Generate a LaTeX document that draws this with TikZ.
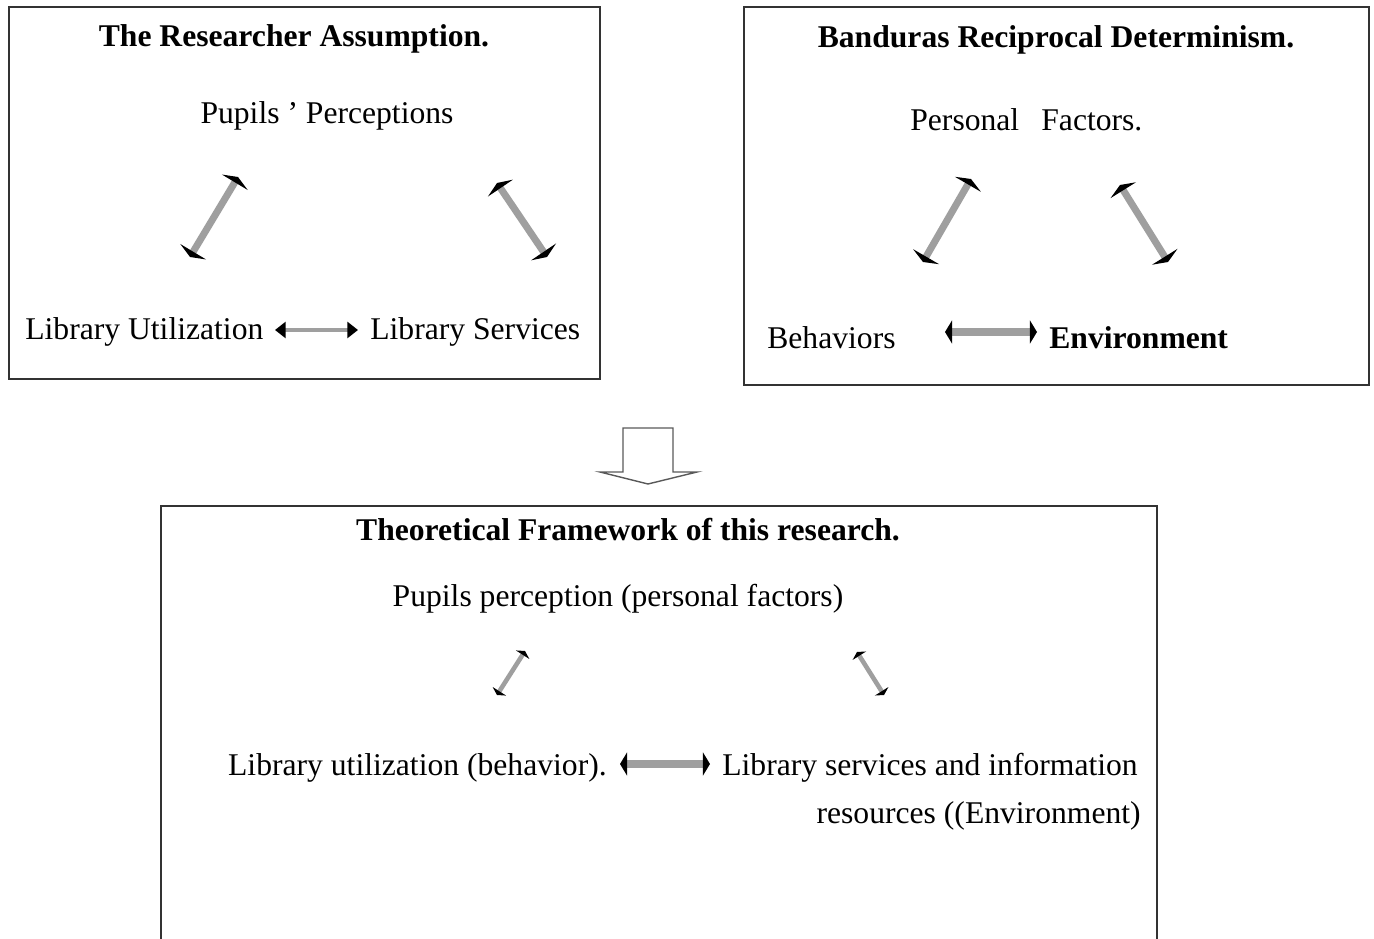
\documentclass[tikz,border=0pt]{standalone}
\usepackage{fontspec}
\setmainfont{Liberation Serif}
\usetikzlibrary{arrows.meta,positioning}
\tikzset{
   frame/.style={draw=black!80,line width=0.6pt},
   lbl/.style={inner sep=0pt,font=\fontsize{18}{21}\selectfont},
   ttl/.style={lbl,font=\fontsize{18}{21}\selectfont\bfseries},
   twoway/.style={draw=gray!75,line width=#1},
   bigtips/.style={{Triangle[length=3.5pt,width=17pt,color=black]}-{Triangle[length=3.5pt,width=17pt,color=black]}},
   smalltips/.style={{Triangle[length=6pt,width=9pt,color=black]}-{Triangle[length=6pt,width=9pt,color=black]}},
   flattips/.style={{Triangle[length=4pt,width=13pt,color=black]}-{Triangle[length=4pt,width=13pt,color=black]}},
   thintips/.style={{Triangle[length=2.5pt,width=9pt,color=black]}-{Triangle[length=2.5pt,width=9pt,color=black]}},
}
\begin{document}
\begin{tikzpicture}[x=0.02cm,y=-0.02cm]
	\useasboundingbox (0,0) rectangle (1374,939);

	% left box
	\draw[frame] (9,7) rectangle (600,379);
	\node[ttl] (ra) at (294,39) {The Researcher Assumption.};
	\node[lbl] (pp) at (327,116) {Pupils ’ Perceptions};
	\node[lbl,anchor=west] (lu) at (25,332) {Library Utilization};
	\node[lbl,anchor=west] (ls) at (370,332) {Library Services};
	\coordinate (a1) at (190,257); \coordinate (a2) at (238,177);
	\coordinate (a3) at (497,183); \coordinate (a4) at (547,257);
	\coordinate (a5) at (275,330); \coordinate (a6) at (358,330);
	\draw[twoway=4pt,bigtips] (a1) -- (a2);
	\draw[twoway=4pt,bigtips] (a3) -- (a4);
	\draw[twoway=2.4pt,smalltips] (a5) -- (a6);

	% right box
	\draw[frame] (744,7) rectangle (1369,385);
	\node[ttl] (bd) at (1056,40) {Banduras Reciprocal Determinism.};
	\node[lbl,anchor=west] (pf) at (910,120) {Personal\hspace{0.45em} Factors.};
	\node[lbl,anchor=west] (bh) at (767,338) {Behaviors};
	\node[ttl,anchor=west] (en) at (1049,338) {Environment};
	\coordinate (b1) at (923,262); \coordinate (b2) at (971,179);
	\coordinate (b3) at (1120,185); \coordinate (b4) at (1168,262);
	\coordinate (b5) at (945,332); \coordinate (b6) at (1037,332);
	\draw[twoway=4pt,bigtips] (b1) -- (b2);
	\draw[twoway=4pt,bigtips] (b3) -- (b4);
	\draw[twoway=5pt,flattips] (b5) -- (b6);

	% hollow arrow
	\draw[draw=black!65,line width=0.8pt,line join=miter]
		(623,428) -- (673,428) -- (673,472) -- (697,472) -- (648,484)
		-- (600,472) -- (623,472) -- cycle;

	% bottom box
	\draw[frame] (161,948) -- (161,506) -- (1157,506) -- (1157,948);
	\node[ttl] (tf) at (628,530) {Theoretical Framework of this research.};
	\node[lbl] (pc) at (618,599) {Pupils perception (personal factors)};
	\node[lbl,anchor=east] (ub) at (607,768) {Library utilization (behavior).};
	\node[lbl,anchor=west] (si) at (722,768) {Library services and information};
	\node[lbl,anchor=east] (re) at (1141,816) {resources ((Environment)};
	\coordinate (c1) at (497,695); \coordinate (c2) at (525,651);
	\coordinate (c3) at (857,652); \coordinate (c4) at (884,695);
	\coordinate (c5) at (620,764); \coordinate (c6) at (710,764);
	\draw[twoway=2.6pt,thintips] (c1) -- (c2);
	\draw[twoway=2.6pt,thintips] (c3) -- (c4);
	\draw[twoway=4.5pt,flattips] (c5) -- (c6);
\end{tikzpicture}
\end{document}
